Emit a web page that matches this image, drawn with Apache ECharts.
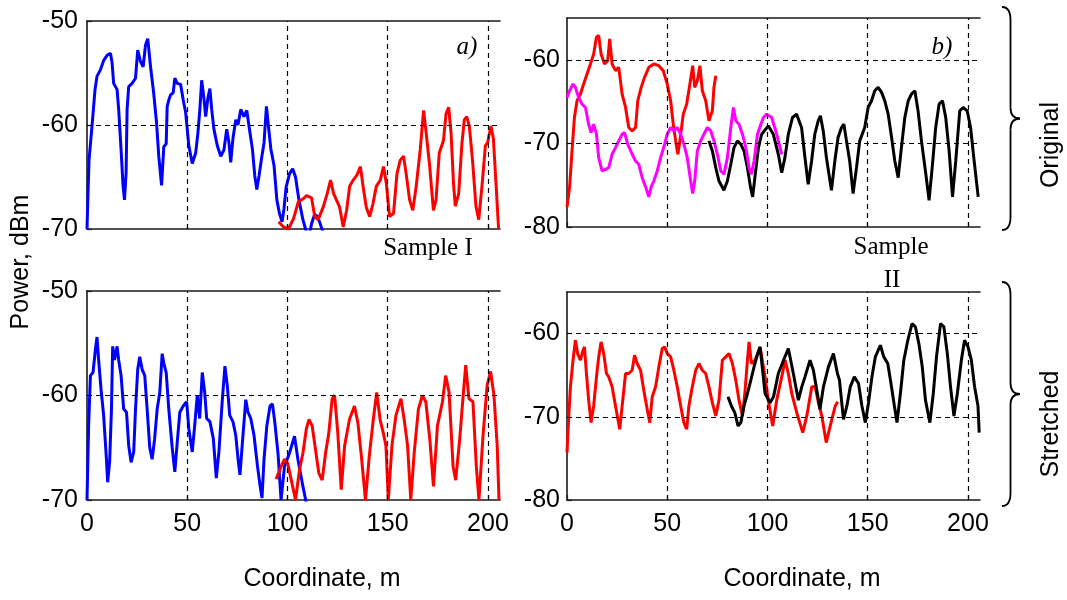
<!DOCTYPE html>
<html>
<head>
<meta charset="utf-8">
<script src="https://cdn.jsdelivr.net/npm/echarts@6/dist/echarts.min.js"></script>
<style>html,body{margin:0;padding:0;background:#fff}#c{width:1067px;height:600px}</style>
</head>
<body>
<div id="c"></div>
<script>
// ---------- tick labels ----------
const xTicks = [0, 50, 100, 150, 200];
const yTicksLeft = [-70, -60, -50];
const yTicksRight = [-80, -70, -60];

// ---------- a) Sample I, original (top-left) ----------
const tlBlue = [[0,-70],[1,-63.4],[2.5,-60.1],[4,-56.6],[5,-55.3],[6.7,-54.7],[8.3,-53.8],[10,-53.3],[11.7,-53.1],[12.5,-54],[13.3,-56],[15,-56.6],[15.8,-58.5],[17,-62.4],[18,-65.9],[18.7,-67.2],[19.5,-64.6],[20,-58.5],[20.8,-56.3],[22.5,-56],[24.2,-55.5],[25.3,-52.8],[26.7,-53.9],[28,-54.4],[29.2,-52.3],[30.3,-51.7],[31.7,-54.4],[33.3,-57],[34.7,-59.8],[35.8,-63],[37.2,-65.8],[38.3,-62.1],[39.5,-61.8],[40,-58.2],[40.8,-57.6],[41.7,-57.1],[43,-56.9],[43.8,-55.5],[45,-56],[46.7,-56.1],[48,-57.6],[49.2,-58.8],[50.8,-62],[52.5,-63.7],[54.2,-62.7],[55.3,-60.8],[56.3,-58.5],[57.2,-55.7],[58.3,-57.4],[59.2,-59.2],[60.3,-57.4],[61.3,-56.5],[62.2,-58.5],[63.3,-60.4],[65,-62],[66.7,-63],[68.3,-62.4],[69.7,-60.4],[70.8,-61.7],[71.7,-63.6],[72.8,-61.3],[74.2,-59.5],[75.3,-60],[76.7,-58.5],[78.3,-59.2],[79.7,-58.6],[80.8,-60.1],[82.5,-62.3],[83.7,-64.9],[84.7,-66.2],[85.8,-64.9],[87,-63.3],[88.3,-61.7],[89.5,-58.2],[90.5,-60.1],[91.7,-62.3],[93.3,-63.9],[94.7,-67.2],[96,-68.5],[97.3,-69.3],[98.3,-68],[99.3,-66],[101,-64.7],[102.6,-64.2],[104,-65],[105.7,-67.2],[107.7,-69.1],[109,-70],[110.5,-71],[112,-69.5],[113.5,-68.6],[115,-68.8],[116.5,-69.6],[118,-70.5]];
const tlRed = [[95.6,-69.3],[98,-69.8],[100.5,-70],[103,-69],[105.4,-67.4],[107.8,-67.1],[109.5,-66.8],[112,-67],[113.6,-68.8],[115.3,-69.1],[117.8,-67.9],[119.8,-66.6],[121.5,-65.3],[123,-66.6],[124.4,-67.2],[126,-67.9],[127.8,-69.8],[129.5,-68.2],[131,-65.9],[132.8,-65.3],[134.7,-64.8],[136.4,-64],[137.7,-65.9],[139.3,-67.9],[141,-68.8],[142.6,-67.6],[144.3,-65.9],[146.3,-65.3],[147.9,-64],[149.3,-65.6],[150.9,-68.8],[152.9,-68.5],[154.6,-64.7],[156.2,-63.4],[157.9,-63],[159.2,-64.7],[160.9,-67.2],[162.5,-68.2],[164.2,-65.9],[166.2,-62.4],[167.9,-58.6],[169.2,-60.8],[170.8,-63.7],[172.8,-68.2],[174.1,-67.2],[175.7,-62.7],[177.8,-61.5],[179.1,-58.9],[180.4,-58.3],[181.6,-60.8],[182.8,-65.6],[183.7,-67.8],[185.4,-66.6],[187,-61.8],[188.2,-59.5],[189.4,-59.2],[190.7,-60.1],[192.3,-63.4],[194,-67.8],[195.4,-69.1],[197,-65.9],[198.7,-62],[199.8,-61.7],[201.5,-60.1],[202.7,-61.3],[204,-65.6],[205.3,-70]];

// ---------- a) Sample I, stretched (bottom-left) ----------
const blBlue = [[0,-70],[0.8,-63],[1.7,-58.1],[3,-57.8],[4.2,-55.6],[5,-54.4],[5.8,-56.6],[7,-59.4],[8.3,-61.9],[9.7,-66.1],[10.3,-68.3],[11.3,-66.3],[12.2,-61.3],[12.8,-55.3],[13.7,-56.6],[15,-55.3],[15.8,-56.6],[17,-58.1],[18.3,-61.3],[19.7,-61.6],[20.8,-64.8],[22,-66.4],[23.3,-65.4],[24.2,-61.3],[25.3,-57.5],[26.3,-56.3],[27.5,-57.5],[28.8,-58.1],[30,-61.3],[31.3,-65],[32.5,-66.1],[33.7,-64.2],[35,-61.3],[36.3,-59.7],[37.5,-56],[38.3,-56.9],[39.5,-57.8],[40.8,-61.3],[42.5,-65],[43.8,-67.3],[45,-64.5],[46.3,-61.6],[48,-61],[49.7,-60.6],[50.8,-63.2],[52.5,-65.4],[53.7,-62.9],[55,-60],[56.2,-62.2],[57.5,-57.8],[58.7,-59.7],[59.7,-62.2],[61.3,-62.5],[63,-64.1],[64.5,-67.9],[65.8,-65.4],[67.5,-60.4],[68.8,-57.2],[70,-59.1],[71.2,-61.9],[72.8,-62.5],[74.2,-63.8],[75.3,-66],[76.3,-67.6],[77.8,-63.8],[79.2,-60.4],[80.3,-61.6],[81.7,-62.2],[83.3,-63.8],[85,-66.7],[86.3,-68.6],[87.3,-69.8],[88.3,-66.1],[89.7,-62.9],[91.3,-61],[92.5,-60.8],[93.7,-62.6],[95.3,-65.6],[96.8,-70],[98.5,-66.8],[101,-65.5],[103.5,-63.9],[105.2,-66.1],[107.7,-68.7],[109.4,-70.3]];
const blRed = [[94.3,-68],[96.8,-66.8],[98.5,-66.1],[100.1,-66.5],[101.8,-68],[104,-70],[106,-67.1],[107.7,-65.5],[109.4,-63.2],[110.7,-62.3],[112.3,-62.9],[114,-65.2],[115.6,-67.4],[117.3,-68.1],[119,-65.5],[120.6,-63.6],[122.3,-60.3],[123.5,-60],[125.1,-63.6],[126.8,-69],[128.5,-64.8],[130.9,-62.3],[133.4,-61],[135.1,-62.6],[136.7,-65.5],[138.9,-70],[140.8,-65.8],[142.8,-62.3],[144.5,-59.7],[146.2,-62.3],[147.8,-63.6],[149.1,-64.8],[150.3,-70],[152.1,-64.8],[154.1,-61.9],[156.6,-60.3],[158.2,-62.3],[159.9,-64.8],[161.5,-70],[163.2,-65.5],[165.3,-61.3],[167.3,-60],[169,-60.6],[171,-64.2],[172.8,-68.7],[174.8,-62.9],[177.3,-60.6],[178.9,-58.1],[180.6,-59.7],[182.6,-66.8],[183.9,-68.1],[185.9,-64.2],[187.5,-60.3],[188.9,-57.1],[190.5,-60.3],[192.5,-60.6],[194.2,-66.8],[195.5,-70],[197.5,-63.9],[199.6,-59],[201.3,-57.7],[203,-60],[204.6,-64.8],[205.5,-70]];

// ---------- b) Sample II, original (top-right) ----------
const trBlack = [[70.8,-69.7],[72.5,-70.9],[74.2,-72.9],[75.8,-74.5],[78.3,-75.6],[80,-74.5],[81.7,-72.5],[83.3,-70.5],[85,-69.7],[86.7,-70.1],[88.3,-70.9],[90,-72.9],[91.5,-75.2],[92.6,-76.4],[94,-73.5],[95.5,-70.5],[97.1,-68.9],[100.4,-67.9],[102.9,-68.9],[105.4,-71.3],[107.1,-73.5],[108.7,-71.7],[110.4,-68.9],[112.5,-66.9],[114.5,-66.5],[117,-68.1],[118.7,-71.7],[120.3,-74.9],[122,-72.1],[123.6,-68.9],[125.3,-67.3],[126.4,-66.7],[127.8,-68.5],[129.4,-71.7],[131.9,-75.6],[133.6,-72.1],[135.2,-69.3],[136.9,-68.1],[138.1,-67.7],[139.4,-69.7],[141,-72.1],[142.7,-76],[144.4,-72.9],[146,-69.7],[148.5,-68.1],[150.2,-65.7],[151.9,-64.9],[153.5,-63.7],[155.2,-63.3],[156.9,-63.9],[158.5,-64.9],[160.2,-66.5],[161.9,-69.3],[163.5,-72.1],[165.2,-74.1],[166.8,-70.5],[168.5,-66.9],[170.2,-64.9],[171.8,-64.1],[173.5,-63.7],[175.1,-66.1],[176.8,-69.7],[179,-73.7],[180.6,-76.8],[182.3,-72.5],[183.9,-68.1],[185.6,-65.3],[187.3,-64.9],[188.9,-66.9],[190.6,-70.9],[192.3,-76.4],[193.9,-72.1],[195.9,-66.1],[197.6,-65.7],[199.6,-66.1],[201.3,-68.1],[202.9,-71.7],[205.1,-76.4]];
const trRed = [[0,-77.6],[1.3,-75.2],[2.5,-70.9],[3.7,-66.9],[5,-64.9],[6.7,-64.1],[8.3,-62.9],[10,-61.7],[11.7,-60.5],[13.3,-59.3],[14.7,-57.3],[15.8,-57.1],[17,-59.3],[18.7,-60.5],[20.3,-60.1],[21.3,-57.5],[22.5,-60.5],[24.2,-61.3],[25.8,-60.9],[27.5,-64.1],[29.2,-65.7],[30.8,-68.1],[32.5,-68.5],[34.2,-68.1],[35.3,-64.9],[37,-63.3],[38.7,-62.1],[40.8,-60.9],[43.3,-60.5],[45.8,-60.7],[48,-61.3],[50,-62.9],[51.7,-64.9],[53,-67.7],[54.2,-69.7],[55.3,-71.3],[56.3,-69.7],[58,-66.5],[59.7,-65.3],[61.3,-62.9],[62.7,-60.7],[63.7,-63.3],[65,-62.5],[66.3,-60.7],[67.5,-63.7],[69.2,-64.9],[70.8,-67.3],[72.5,-66.1],[73.3,-63.3],[74.2,-61.9]];
const trMagenta = [[0,-64.5],[1.3,-63.7],[3,-62.9],[4.2,-63.3],[5.8,-64.5],[7.5,-65.3],[9.2,-65.7],[10.8,-67.7],[12,-68.7],[13.3,-67.7],[14.7,-68.9],[15.8,-71.7],[17.5,-73.3],[19.2,-73.1],[20.8,-72.9],[22.5,-71.3],[24.2,-70.5],[25.8,-69.7],[27.5,-68.9],[28.7,-68.7],[30.3,-70.1],[32.5,-71.3],[34.2,-72.1],[35.8,-72.5],[37.5,-74.1],[39.2,-75.2],[40.8,-76.4],[42,-75.2],[43.3,-74.5],[45,-73.3],[46.7,-71.7],[48.7,-70.1],[50,-68.9],[51.7,-68.1],[53.3,-68.5],[55,-68.1],[56.7,-68.9],[58.3,-70.1],[60,-71.7],[61.7,-74.5],[62.7,-76],[63.7,-74.5],[65,-70.9],[66.7,-69.7],[68.3,-68.9],[70,-68.1],[71.7,-68.5],[73.3,-69.7],[75,-71.3],[76.7,-73.3],[78.3,-73.7],[80,-71.7],[81.7,-68.1],[83,-65.7],[84.2,-67.3],[85.8,-67.7],[87.5,-68.9],[89.2,-70.5],[90.8,-72.9],[92,-73.7],[93.3,-72.1],[95,-68.9],[96.7,-67.7],[98,-66.9],[99.6,-66.5],[102.1,-66.9],[104.6,-68.9],[107.1,-71.3]];

// ---------- b) Sample II, stretched (bottom-right) ----------
const brRed = [[0,-74.3],[0.8,-70.3],[1.7,-66.4],[3,-63.2],[4.2,-60.8],[5.3,-62.4],[6.7,-63.2],[8,-62],[8.7,-61.6],[9.7,-64.8],[10.8,-68],[12,-70.7],[13.3,-68.7],[14.7,-65.2],[15.8,-62.8],[17,-61],[18.3,-62.4],[19.7,-64.8],[20.8,-65.2],[22.5,-66.4],[24.2,-68.7],[26.3,-71.5],[27.5,-68.7],[29.2,-64.8],[30.8,-64.8],[32.5,-64.4],[33.7,-62.6],[35,-63.6],[36.7,-64.4],[38.3,-66.8],[40,-69.1],[41.3,-70.7],[42.5,-67.6],[44.2,-66.4],[45.8,-64],[47.5,-61.8],[48.7,-61.6],[50,-62.4],[51.7,-62.8],[53.3,-64.4],[55,-66.4],[56.7,-68.7],[58.3,-70.7],[59.7,-71.5],[60.8,-68.7],[62.5,-66.4],[64.2,-64.4],[65.8,-63.6],[67.5,-64.4],[69.2,-64.8],[70.8,-66.4],[72.5,-68.3],[74.2,-69.9],[75.8,-68],[77.5,-63.2],[79.2,-62.8],[80.8,-62.4],[82.5,-63.6],[84.2,-65.6],[85.8,-68],[87.5,-69.9],[88.7,-67.2],[90,-63.2],[90.8,-61],[92,-63.6],[93.8,-63.2],[96.3,-61.6],[98.8,-65.2],[100.4,-68],[102.6,-71.1],[104.6,-68],[107.1,-65.2],[108.8,-63.2],[110.4,-64.8],[112.1,-67.2],[114.6,-69.5],[117.6,-71.9],[119.6,-69.9],[122.1,-66.4],[123.8,-66.4],[125.4,-68.3],[127.1,-69.9],[129.3,-73.1],[131.3,-71.1],[133.8,-68.7],[135,-68.2]];
const brBlack = [[80.3,-67.6],[82,-68.7],[83.7,-69.5],[85.3,-71.1],[86.7,-70.7],[88.3,-68.7],[90,-67.2],[91.7,-65.6],[93.3,-64],[95,-62.5],[96.3,-61.6],[98.8,-67.2],[101.3,-68.3],[103,-67.6],[105.4,-64.8],[108,-63.2],[110.4,-61.8],[112.9,-64.8],[115.4,-68],[117.1,-66.4],[118.7,-65.2],[121.2,-63.2],[122.9,-64.4],[124.6,-66.8],[126.2,-69.1],[127.9,-66.4],[130.4,-64],[132.9,-62.4],[134.9,-64.8],[135.9,-65.6],[137.9,-70.3],[139.6,-68.7],[141.3,-66.4],[143.3,-65.2],[145.4,-66],[147.1,-68.7],[148.8,-70.7],[150.4,-68.3],[152.1,-65.2],[153.8,-62.8],[156.3,-61.4],[158,-62.8],[160,-63.6],[161.6,-66],[163.3,-68.7],[164.6,-70.7],[166.3,-67.2],[168,-63.2],[170,-60.8],[172.1,-58.8],[173.8,-59.2],[175.5,-61.2],[177.2,-64],[178.8,-68],[181,-70.7],[182.7,-67.2],[184.3,-62.8],[186.3,-58.8],[188,-59.2],[189.7,-62.4],[191.3,-66.4],[193,-69.9],[194.7,-67.2],[196.7,-63.2],[198.3,-60.8],[200,-61.6],[201.7,-63.2],[203.3,-66.4],[205,-68.7],[205.6,-71.9]];

// ---------- build ----------
const SANS = "'Liberation Sans', Arial, Helvetica, sans-serif";
const SERIF = "'Liberation Serif', 'Times New Roman', serif";
const AXC = '#1a1a1a';
const grids = [
  {left: 87, top: 21, width: 413, height: 208},
  {left: 87, top: 291, width: 413, height: 209},
  {left: 567, top: 18, width: 413, height: 209},
  {left: 567, top: 292, width: 413, height: 208}
];
const yRanges = [[-70, -50], [-70, -50], [-80, -55], [-80, -55]];
const xAxes = [];
const yAxes = [];
grids.forEach((g, i) => {
  xAxes.push({
    type: 'value', gridIndex: i, min: 0, max: 206, interval: 50, position: 'bottom',
    axisLine: {show: true, onZero: false, lineStyle: {color: AXC, width: 1.6}},
    axisTick: {show: true, inside: true, length: 5, customValues: xTicks, lineStyle: {color: AXC, width: 1.2}},
    axisLabel: {show: i === 1 || i === 3, customValues: xTicks, margin: 12, fontSize: 25, color: '#000', fontFamily: SANS,
      formatter: v => (xTicks.indexOf(v) >= 0 ? String(v) : '')},
    splitLine: {show: false}
  });
});
grids.forEach((g, i) => {
  xAxes.push({
    type: 'value', gridIndex: i, min: 0, max: 206, position: 'top',
    axisLine: {show: true, onZero: false, lineStyle: {color: AXC, width: 1.6}},
    axisTick: {show: false}, axisLabel: {show: false}, splitLine: {show: false}
  });
});
grids.forEach((g, i) => {
  const ticks = i < 2 ? yTicksLeft : yTicksRight;
  yAxes.push({
    type: 'value', gridIndex: i, min: yRanges[i][0], max: yRanges[i][1], interval: 10,
    axisLine: {show: true, onZero: false, lineStyle: {color: AXC, width: 1.6}},
    axisTick: {show: true, inside: true, length: 5, customValues: ticks, lineStyle: {color: AXC, width: 1.2}},
    axisLabel: {show: true, customValues: ticks, margin: i < 2 ? 9 : 7, fontSize: 25, color: '#000', fontFamily: SANS,
      formatter: v => (ticks.indexOf(v) >= 0 ? String(v) : '')},
    splitLine: {show: false}
  });
});

const dash = {type: [5, 4], color: '#000', width: 1.2};
function gridMarks(ys) {
  const d = [50, 100, 150, 200].map(v => ({xAxis: v}));
  ys.forEach(v => d.push({yAxis: v}));
  return {silent: true, symbol: ['none', 'none'], label: {show: false}, lineStyle: dash, animation: false, data: d};
}
function ser(data, color, gi, marks) {
  const s = {
    type: 'line', data: data, xAxisIndex: gi, yAxisIndex: gi, showSymbol: false, symbol: 'none',
    clip: true, smooth: false, animation: false, silent: true,
    lineStyle: {color: color, width: 3}, itemStyle: {color: color}
  };
  if (marks) s.markLine = marks;
  return s;
}
const series = [
  ser(tlBlue, '#0000ff', 0, gridMarks([-60])),
  ser(tlRed, '#ff0000', 0),
  ser(blBlue, '#0000ff', 1, gridMarks([-60])),
  ser(blRed, '#ff0000', 1),
  ser(trBlack, '#000000', 2, gridMarks([-60, -70])),
  ser(trRed, '#ff0000', 2),
  ser(trMagenta, '#ff00ff', 2),
  ser(brRed, '#ff0000', 3, gridMarks([-60, -70])),
  ser(brBlack, '#000000', 3)
];

function brace(top, bottom) {
  const mid = (top + bottom) / 2;
  const x0 = 1002, x1 = 1010.5, xp = 1020;
  const st = {stroke: '#000', lineWidth: 1.8, fill: null};
  return [
    {type: 'bezierCurve', shape: {x1: x0, y1: top, cpx1: x1, cpy1: top, x2: x1, y2: top + 13}, style: st},
    {type: 'line', shape: {x1: x1, y1: top + 13, x2: x1, y2: mid - 11}, style: st},
    {type: 'bezierCurve', shape: {x1: x1, y1: mid - 11, cpx1: x1, cpy1: mid, x2: xp, y2: mid}, style: st},
    {type: 'bezierCurve', shape: {x1: xp, y1: mid, cpx1: x1, cpy1: mid, x2: x1, y2: mid + 11}, style: st},
    {type: 'line', shape: {x1: x1, y1: mid + 11, x2: x1, y2: bottom - 13}, style: st},
    {type: 'bezierCurve', shape: {x1: x1, y1: bottom - 13, cpx1: x1, cpy1: bottom, x2: x0, y2: bottom}, style: st}
  ];
}
function txt(t, x, y, font, rot) {
  return {type: 'text', x: x, y: y, rotation: rot || 0, silent: true,
    style: {text: t, font: font, fill: '#000', align: 'center', verticalAlign: 'middle'}};
}

const graphic = [].concat(
  brace(7, 230),
  brace(282, 506),
  [
    txt('Power, dBm', 21, 262, '25px ' + SANS, Math.PI / 2),
    txt('Original', 1051, 145, '25px ' + SANS, Math.PI / 2),
    txt('Stretched', 1051, 424, '25px ' + SANS, Math.PI / 2),
    txt('Coordinate, m', 322, 579, '25px ' + SANS),
    txt('Coordinate, m', 802, 579, '25px ' + SANS),
    txt('a)', 467, 47, 'italic 25px ' + SERIF),
    txt('b)', 942, 47, 'italic 25px ' + SERIF),
    txt('Sample I', 428, 248, '25px ' + SERIF),
    txt('Sample', 891, 247, '25px ' + SERIF),
    txt('II', 892, 280, '25px ' + SERIF)
  ]
);

const chart = echarts.init(document.getElementById('c'), null, {renderer: 'canvas'});
chart.setOption({
  animation: false,
  backgroundColor: '#fff',
  grid: grids.map(g => Object.assign({containLabel: false}, g)),
  xAxis: xAxes,
  yAxis: yAxes,
  series: series,
  graphic: graphic
});
</script>
</body>
</html>
